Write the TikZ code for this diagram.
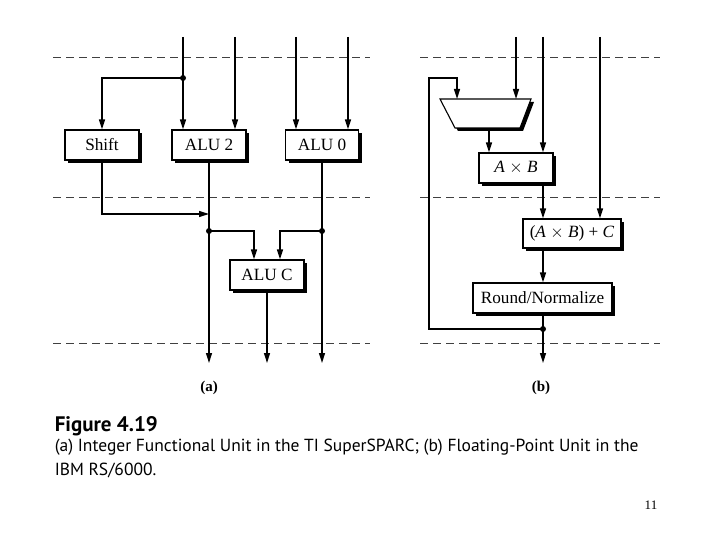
\documentclass[tikz,border=0pt]{standalone}
\usepackage{fontspec}
\setmainfont{Liberation Serif}
\newfontfamily\capfont{PT Sans}
\usetikzlibrary{calc,positioning,arrows.meta,shadows}

\begin{document}
\begin{tikzpicture}[x=1pt,y=-1pt,>={Triangle[length=10pt,width=6pt]},line width=1.5pt,
  unit/.style={draw,fill=white,line width=1.1pt,minimum height=30pt,inner sep=0pt,font=\fontsize{17.2}{19}\selectfont,
    drop shadow={shadow xshift=3pt,shadow yshift=-3pt,fill=black,opacity=1}},
  stage/.style={black!75,line width=0.9pt,dash pattern=on 8pt off 5pt},
  dot/.style={circle,fill=black,inner sep=0pt,minimum size=6pt}]
  \useasboundingbox (0,0) rectangle (720,540);
  % pipeline stages
  \foreach \y in {57,197,343} {
    \draw[stage] (53,\y) -- (370,\y);
    \draw[stage] (420,\y) -- (660,\y);
  }
  % (a) integer unit
  \node[unit,minimum width=74pt] (shift) at (102,145) {Shift};
  \node[unit,minimum width=74pt] (alu2) at (209,145) {ALU 2};
  \node[unit,minimum width=73pt] (alu0) at (322,145) {ALU 0};
  \node[unit,minimum width=74pt] (aluc) at (267,275) {ALU C};
  \coordinate (a1) at (183,37);
  \coordinate (a2) at (235,37);
  \coordinate (a3) at (296,37);
  \coordinate (a4) at (348,37);
  \node[dot] (sp) at (183,78) {};
  \node[dot] (j1) at (209,231) {};
  \node[dot] (j2) at (322,231) {};
  \coordinate (m1) at (209,214);
  \coordinate (o1) at (209,363);
  \coordinate (o2) at (267,363);
  \coordinate (o3) at (322,363);
  \draw[->] (a1) -- (a1 |- alu2.north);
  \draw[->] (a2) -- (a2 |- alu2.north);
  \draw[->] (a3) -- (a3 |- alu0.north);
  \draw[->] (a4) -- (a4 |- alu0.north);
  \draw[->] (sp.center) -| (shift.north);
  \draw[->] (shift.south) |- (m1);
  \draw[->] (alu2.south) -- (o1);
  \draw[->] (alu0.south) -- (o3);
  \draw[->] (aluc.south) -- (o2);
  \draw[->] (j1.center) -| ([xshift=-13pt]aluc.north);
  \draw[->] (j2.center) -| ([xshift=13pt]aluc.north);
  \node[font=\bfseries\fontsize{15}{17}\selectfont] (la) at (209,388) {(a)};
  % (b) floating-point unit
  \coordinate (tl) at (440,99);
  \coordinate (tr) at (531,99);
  \coordinate (br) at (520,128);
  \coordinate (bl) at (455,128);
  \fill[black] ($(tl)+(3,3)$) -- ($(tr)+(3,3)$) -- ($(br)+(3,3)$) -- ($(bl)+(3,3)$) -- cycle;
  \draw[fill=white,line width=1.1pt] (tl) -- (tr) -- (br) -- (bl) -- cycle;
  \node[unit,minimum width=74pt] (ab) at (516,168) {\textit{A} $\times$ \textit{B}};
  \node[unit,minimum width=98pt,minimum height=29pt] (abc) at (572,233.5) {(\textit{A} $\times$ \textit{B}) + \textit{C}};
  \node[unit,minimum width=139pt] (rnd) at (542.5,298) {Round/Normalize};
  \coordinate (b1) at (516,37);
  \coordinate (b2) at (543,37);
  \coordinate (b3) at (600,37);
  \coordinate (fbl) at (429,78);
  \coordinate (mi) at (457,99);
  \coordinate (mo) at (489,128);
  \coordinate (o4) at (543,363);
  \node[dot] (fb) at (543,329) {};
  \draw[->] (b1) -- (b1 |- tl);
  \draw[->] (b2) -- (b2 |- ab.north);
  \draw[->] (b3) -- (b3 |- abc.north);
  \draw[->] (mo) -- (mo |- ab.north);
  \draw[->] (b2 |- ab.south) -- (b2 |- abc.north);
  \draw[->] (b2 |- abc.south) -- (b2 |- rnd.north);
  \draw[->] (b2 |- rnd.south) -- (o4);
  \draw[->] (fb.center) -| (fbl) -| (mi);
  \node[font=\bfseries\fontsize{15}{17}\selectfont] (lb) at (541,388) {(b)};
  % caption
  \node[anchor=west,font=\capfont\bfseries\fontsize{21}{24}\selectfont,inner sep=0pt] (fig) at (54,426) {Figure 4.19};
  \node[anchor=north west,align=left,font=\capfont\fontsize{17.5}{24}\selectfont,inner sep=0pt] (cap) at (54,438)
    {(a) Integer Functional Unit in the TI SuperSPARC; (b) Floating-Point Unit in the\\IBM RS/6000.};
  \node[font=\fontsize{13}{15}\selectfont] (pg) at (651,505) {11};
\end{tikzpicture}
\end{document}
